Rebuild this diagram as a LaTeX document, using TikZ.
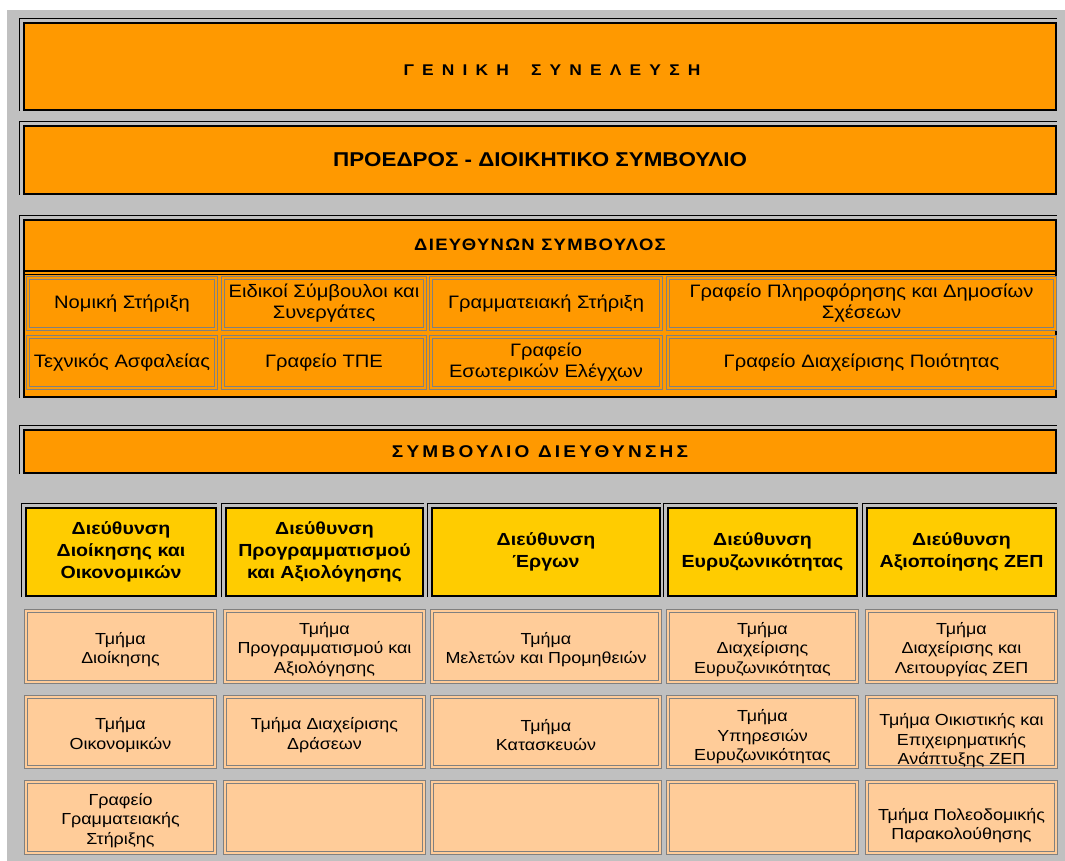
\documentclass[tikz,border=0pt]{standalone}
\usepackage{fontspec}
\setmainfont[FakeStretch=1.12]{Liberation Sans}
\definecolor{org}{HTML}{FF9900}
\definecolor{gld}{HTML}{FFCC00}
\definecolor{pch}{HTML}{FFCC99}
\definecolor{bgg}{HTML}{C0C0C0}
\definecolor{lgr}{HTML}{808080}
\newcommand\fsreg{\fontsize{18}{21}\selectfont}
\newcommand\fspch{\fontsize{16}{19.5}\selectfont}
\newcommand\fsdir{\fontsize{17.5}{22}\selectfont\bfseries}
\newcommand\gsp{\hskip 8.2pt}
\begin{document}
\begin{tikzpicture}[x=1pt,y=-1pt,
  R/.style n args={4}{minimum width={#3-#1}, minimum height={#4-#2}, at={({(#1+#3)/2},{(#2+#4)/2})}},
  box/.style={inner sep=0pt, align=center, text=black},
  blk/.style={box, draw=black, line width=2pt, fill=org},
  dirbox/.style={box, draw=black, line width=2pt, fill=gld, font=\fsdir},
  gcell/.style={box, draw=lgr, double=org, double distance=1.2pt, line width=1.1pt, font=\fsreg},
  pcell/.style={box, draw=lgr, double=pch, double distance=1.2pt, line width=1.1pt, fill=pch, font=\fspch},
  thinblk/.style={draw=black, line width=0.9pt},
  septhick/.style={draw=black, line width=2pt},
  ptext/.style={box, font=\fspch, yshift=-3pt}
]
\useasboundingbox (0,0) rectangle (1065,861);
\fill[white] (0,0) rectangle (1065,861);
\fill[bgg] (7,10) rectangle (1065,861);

% top boxes
\node[blk, R={24}{23}{1056}{110}] (gs) {};
\node[box, font=\fontsize{15.5}{18}\selectfont\bfseries, xshift=12pt, yshift=-3.5pt] (gst) at (gs)
  {Γ\gsp Ε\gsp Ν\gsp Ι\gsp Κ\gsp Η\hskip 22pt Σ\gsp Υ\gsp Ν\gsp Ε\gsp Λ\gsp Ε\gsp Υ\gsp Σ\gsp Η};
\node[blk, R={24}{126}{1056}{194}, font=\fontsize{20}{23}\selectfont\bfseries] (pd)
  {ΠΡΟΕΔΡΟΣ - ΔΙΟΙΚΗΤΙΚΟ ΣΥΜΒΟΥΛΙΟ};

% CEO block
\node[blk, R={24}{220}{1056}{397}] (ceo) {};
\node[box, R={24}{220}{1056}{270.5}, font=\fontsize{16.5}{19}\selectfont\bfseries\addfontfeature{LetterSpace=8}] (ceoh)
  {ΔΙΕΥΘΥΝΩΝ ΣΥΜΒΟΥΛΟΣ};
\draw[septhick] (ceoh.south west) -- (ceoh.south east);
\draw[thinblk] ([yshift=-3.5pt]ceoh.south west) -- ([yshift=-3.5pt]ceoh.south east);

\node[gcell, R={28}{278}{216}{329}] (c11) {Νομική Στήριξη};
\node[gcell, R={223}{278}{425}{329}] (c12) {Ειδικοί Σύμβουλοι και\\Συνεργάτες};
\node[gcell, R={431}{278}{661}{329}] (c13) {Γραμματειακή Στήριξη};
\node[gcell, R={668}{278}{1055}{329}] (c14) {Γραφείο Πληροφόρησης και Δημοσίων\\Σχέσεων};
\node[gcell, R={28}{337}{216}{388}] (c21) {Τεχνικός Ασφαλείας};
\node[gcell, R={223}{337}{425}{388}] (c22) {Γραφείο ΤΠΕ};
\node[gcell, R={431}{337}{661}{388}] (c23) {Γραφείο\\Εσωτερικών Ελέγχων};
\node[gcell, R={668}{337}{1055}{388}] (c24) {Γραφείο Διαχείρισης Ποιότητας};

% board of directors
\node[blk, R={24}{430}{1056}{473}, font=\fontsize{17}{19}\selectfont\bfseries\addfontfeature{LetterSpace=19}] (bod)
  {ΣΥΜΒΟΥΛΙΟ ΔΙΕΥΘΥΝΣΗΣ};

% directorates
\node[dirbox, R={26}{508}{216}{596}] (d1) {Διεύθυνση\\Διοίκησης και\\Οικονομικών};
\node[dirbox, R={226}{508}{423}{596}] (d2) {Διεύθυνση\\Προγραμματισμού\\και Αξιολόγησης};
\node[dirbox, R={432}{508}{660}{596}] (d3) {Διεύθυνση\\Έργων};
\node[dirbox, R={668}{508}{857}{596}] (d4) {Διεύθυνση\\Ευρυζωνικότητας};
\node[dirbox, R={867}{508}{1056}{596}] (d5) {Διεύθυνση\\Αξιοποίησης ΖΕΠ};

\foreach \n in {gs,pd,ceo,bod,d1,d2,d3,d4,d5}
  \draw[thinblk] ([xshift=-4pt]\n.south west) |- ([yshift=4pt]\n.north east);

% departments
\node[pcell, R={26}{611}{215}{682}] (p11) {};
\node[pcell, R={225}{611}{424}{682}] (p12) {};
\node[pcell, R={432}{611}{660}{682}] (p13) {};
\node[pcell, R={668}{611}{857}{682}] (p14) {};
\node[pcell, R={867}{611}{1056}{682}] (p15) {};
\node[pcell, R={26}{697}{215}{767}] (p21) {};
\node[pcell, R={225}{697}{424}{767}] (p22) {};
\node[pcell, R={432}{697}{660}{767}] (p23) {};
\node[pcell, R={668}{697}{857}{767}] (p24) {};
\node[pcell, R={867}{697}{1056}{767}] (p25) {};
\node[pcell, R={26}{782}{215}{853}] (p31) {};
\node[pcell, R={225}{782}{424}{853}] (p32) {};
\node[pcell, R={432}{782}{660}{853}] (p33) {};
\node[pcell, R={668}{782}{857}{853}] (p34) {};
\node[pcell, R={867}{782}{1056}{853}] (p35) {};

\node[ptext] (t11) at (p11) {Τμήμα\\Διοίκησης};
\node[ptext] (t12) at (p12) {Τμήμα\\Προγραμματισμού και\\Αξιολόγησης};
\node[ptext] (t13) at (p13) {Τμήμα\\Μελετών και Προμηθειών};
\node[ptext] (t14) at (p14) {Τμήμα\\Διαχείρισης\\Ευρυζωνικότητας};
\node[ptext] (t15) at (p15) {Τμήμα\\Διαχείρισης και\\Λειτουργίας ΖΕΠ};
\node[ptext] (t21) at (p21) {Τμήμα\\Οικονομικών};
\node[ptext] (t22) at (p22) {Τμήμα Διαχείρισης\\Δράσεων};
\node[ptext] (t23) at (p23) {Τμήμα\\Κατασκευών};
\node[ptext, yshift=-2pt] (t24) at (p24) {Τμήμα\\Υπηρεσιών\\Ευρυζωνικότητας};
\node[ptext, yshift=-6pt] (t25) at (p25) {Τμήμα Οικιστικής και\\Επιχειρηματικής\\Ανάπτυξης ΖΕΠ};
\node[ptext] (t31) at (p31) {Γραφείο\\Γραμματειακής\\Στήριξης};
\node[ptext, yshift=-5pt] (t35) at (p35) {Τμήμα Πολεοδομικής\\Παρακολούθησης};
\end{tikzpicture}
\end{document}
